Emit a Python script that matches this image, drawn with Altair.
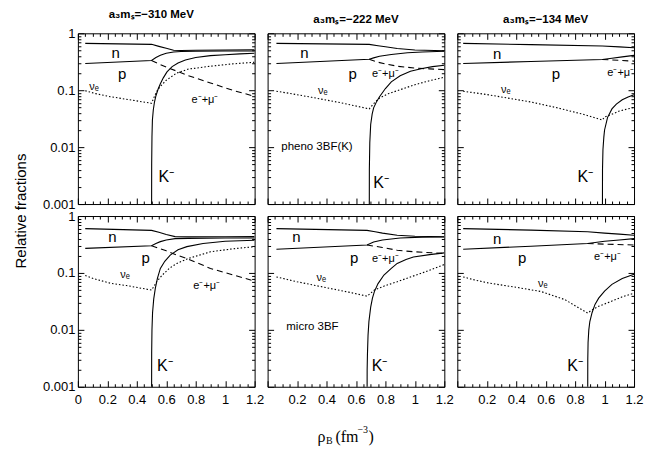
import json
import altair as alt
import pandas as pd

# ---------------- data ----------------
COL_TITLES = ["a₃mₛ=−310 MeV", "a₃mₛ=−222 MeV", "a₃mₛ=−134 MeV"]
MODEL_TEXT = {2: "pheno 3BF(K)", 5: "micro 3BF"}
MODEL_POS = {2: (0.093, 0.0102), 5: (0.127, 0.011)}

X_MAJOR = [0, 0.2, 0.4, 0.6, 0.8, 1.0, 1.2]
X_MINOR = [0.05, 0.1, 0.15, 0.25, 0.3, 0.35, 0.45, 0.5, 0.55, 0.65, 0.7, 0.75,
           0.85, 0.9, 0.95, 1.05, 1.1, 1.15]
Y_MAJOR = [0.001, 0.01, 0.1, 1]
Y_MINOR = [0.002, 0.003, 0.004, 0.005, 0.006, 0.007, 0.008, 0.009,
           0.02, 0.03, 0.04, 0.05, 0.06, 0.07, 0.08, 0.09,
           0.2, 0.3, 0.4, 0.5, 0.6, 0.7, 0.8, 0.9]

# panel 1: pheno, -310 MeV
P1_N = [(0.05, 0.665), (0.5, 0.64), (0.55, 0.59), (0.6, 0.545), (0.65, 0.505), (0.7, 0.50), (0.8, 0.505), (1.0, 0.51), (1.2, 0.515)]
P1_P = [(0.05, 0.295), (0.5, 0.333), (0.53, 0.375), (0.56, 0.41), (0.6, 0.445), (0.65, 0.47), (0.7, 0.48), (0.8, 0.485), (1.0, 0.488), (1.2, 0.49)]
P1_E = [(0.5, 0.333), (0.55, 0.29), (0.6, 0.255), (0.672, 0.216), (0.75, 0.18), (0.9, 0.134), (1.05, 0.1), (1.2, 0.078)]
P1_NU = [(0.05, 0.098), (0.12, 0.087), (0.22, 0.077), (0.35, 0.068), (0.5, 0.059), (0.52, 0.078), (0.54, 0.1), (0.56, 0.117), (0.6, 0.15), (0.67, 0.20), (0.75, 0.235), (0.9, 0.264), (1.05, 0.29), (1.2, 0.31)]
P1_K = [(0.5, 1e-4), (0.501, 0.005), (0.503, 0.015), (0.506, 0.03), (0.512, 0.045), (0.52, 0.062), (0.53, 0.08), (0.545, 0.105), (0.56, 0.13), (0.58, 0.165), (0.605, 0.21), (0.64, 0.26), (0.68, 0.30), (0.73, 0.34), (0.8, 0.375), (0.9, 0.405), (1.0, 0.42), (1.1, 0.435), (1.2, 0.445)]

# panel 2: pheno, -222 MeV
P2_N = [(0.06, 0.665), (0.69, 0.64), (0.75, 0.605), (0.8, 0.58), (0.88, 0.54), (1.0, 0.51), (1.2, 0.495)]
P2_P = [(0.06, 0.295), (0.69, 0.35), (0.72, 0.37), (0.76, 0.395), (0.84, 0.425), (0.95, 0.455), (1.05, 0.47), (1.2, 0.485)]
P2_E = [(0.69, 0.35), (0.75, 0.31), (0.8, 0.29), (0.88, 0.264), (1.0, 0.245), (1.1, 0.237), (1.2, 0.23)]
P2_NU = [(0.06, 0.096), (0.15, 0.088), (0.3, 0.075), (0.5, 0.06), (0.69, 0.047), (0.72, 0.058), (0.76, 0.073), (0.82, 0.087), (0.88, 0.098), (1.0, 0.125), (1.1, 0.147), (1.2, 0.169)]
P2_K = [(0.69, 1e-4), (0.691, 0.004), (0.694, 0.012), (0.7, 0.025), (0.71, 0.038), (0.72, 0.049), (0.74, 0.063), (0.76, 0.077), (0.8, 0.107), (0.84, 0.14), (0.9, 0.18), (0.97, 0.216), (1.05, 0.24), (1.12, 0.26), (1.2, 0.275)]

# panel 3: pheno, -134 MeV
P3_N = [(0.04, 0.665), (0.5, 0.633), (0.985, 0.60), (1.1, 0.578), (1.2, 0.557)]
P3_P = [(0.04, 0.295), (0.5, 0.32), (0.985, 0.347), (1.05, 0.365), (1.12, 0.385), (1.2, 0.41)]
P3_E = [(0.985, 0.347), (1.1, 0.335), (1.2, 0.324)]
P3_NU = [(0.04, 0.096), (0.2, 0.084), (0.34, 0.073), (0.5, 0.062), (0.68, 0.049), (0.85, 0.038), (0.985, 0.030), (1.0, 0.034), (1.04, 0.037), (1.1, 0.043), (1.2, 0.05)]
P3_K = [(0.985, 1e-4), (0.986, 0.004), (0.989, 0.009), (0.995, 0.015), (1.0, 0.02), (1.02, 0.033), (1.05, 0.047), (1.08, 0.057), (1.12, 0.068), (1.16, 0.076), (1.2, 0.083)]

# panel 4: micro, -310 MeV
P4_N = [(0.05, 0.60), (0.5, 0.56), (0.55, 0.52), (0.6, 0.475), (0.66, 0.435), (0.75, 0.43), (1.0, 0.432), (1.2, 0.435)]
P4_P = [(0.05, 0.27), (0.5, 0.30), (0.53, 0.33), (0.56, 0.355), (0.6, 0.38), (0.66, 0.40), (0.75, 0.405), (1.0, 0.41), (1.2, 0.41)]
P4_E = [(0.5, 0.30), (0.55, 0.27), (0.6, 0.245), (0.672, 0.206), (0.75, 0.175), (0.9, 0.12), (1.05, 0.093), (1.2, 0.072)]
P4_NU = [(0.05, 0.09), (0.11, 0.079), (0.22, 0.066), (0.33, 0.06), (0.5, 0.05), (0.52, 0.06), (0.535, 0.07), (0.57, 0.09), (0.62, 0.12), (0.672, 0.147), (0.75, 0.18), (0.9, 0.235), (1.05, 0.265), (1.2, 0.29)]
P4_K = [(0.5, 1e-4), (0.501, 0.004), (0.503, 0.01), (0.507, 0.02), (0.515, 0.035), (0.526, 0.054), (0.54, 0.08), (0.56, 0.12), (0.59, 0.16), (0.627, 0.206), (0.68, 0.255), (0.74, 0.29), (0.85, 0.33), (1.0, 0.36), (1.2, 0.376)]

# panel 5: micro, -222 MeV
P5_N = [(0.06, 0.60), (0.675, 0.56), (0.73, 0.53), (0.78, 0.50), (0.88, 0.46), (1.0, 0.44), (1.2, 0.432)]
P5_P = [(0.06, 0.26), (0.675, 0.31), (0.72, 0.35), (0.78, 0.38), (0.9, 0.41), (1.05, 0.425), (1.2, 0.428)]
P5_E = [(0.675, 0.31), (0.78, 0.28), (0.88, 0.25), (1.0, 0.235), (1.2, 0.22)]
P5_NU = [(0.06, 0.085), (0.2, 0.07), (0.4, 0.055), (0.55, 0.046), (0.675, 0.039), (0.7, 0.044), (0.725, 0.05), (0.8, 0.06), (0.88, 0.07), (0.96, 0.083), (1.04, 0.098), (1.12, 0.117), (1.2, 0.141)]
P5_K = [(0.675, 1e-4), (0.676, 0.002), (0.678, 0.0037), (0.682, 0.008), (0.688, 0.014), (0.7, 0.025), (0.712, 0.036), (0.725, 0.047), (0.75, 0.065), (0.79, 0.092), (0.84, 0.12), (0.88, 0.147), (0.94, 0.172), (0.99, 0.19), (1.1, 0.21), (1.2, 0.225)]

# panel 6: micro, -134 MeV
P6_N = [(0.04, 0.60), (0.5, 0.565), (0.885, 0.53), (1.0, 0.5), (1.1, 0.48), (1.2, 0.46)]
P6_P = [(0.04, 0.26), (0.5, 0.295), (0.885, 0.33), (1.0, 0.36), (1.1, 0.38), (1.2, 0.40)]
P6_E = [(0.885, 0.33), (1.0, 0.32), (1.2, 0.31)]
P6_NU = [(0.04, 0.085), (0.12, 0.075), (0.22, 0.066), (0.4, 0.056), (0.57, 0.047), (0.73, 0.034), (0.885, 0.0197), (0.91, 0.022), (0.96, 0.026), (1.05, 0.032), (1.12, 0.038), (1.2, 0.044)]
P6_K = [(0.885, 1e-4), (0.886, 0.003), (0.888, 0.006), (0.893, 0.01), (0.9, 0.014), (0.915, 0.02), (0.935, 0.028), (0.96, 0.036), (1.0, 0.048), (1.05, 0.063), (1.12, 0.08), (1.2, 0.095)]

# in-panel label anchors, panels 1..6
LBL_N = [(0.256, 0.45), (0.25, 0.45), (0.27, 0.43), (0.234, 0.43), (0.195, 0.43), (0.27, 0.40)]
LBL_P = [(0.30, 0.193), (0.578, 0.19), (0.67, 0.193), (0.46, 0.18), (0.587, 0.18), (0.44, 0.18)]
LBL_NU = [(0.11, 0.112), (0.375, 0.095), (0.33, 0.1), (0.32, 0.092), (0.365, 0.08), (0.58, 0.063)]
LBL_E = [(0.863, 0.068), (0.80, 0.19), (1.11, 0.2), (0.875, 0.058), (0.80, 0.175), (1.02, 0.19)]
LBL_K = [(0.6, 0.003), (0.77, 0.0023), (0.87, 0.003), (0.59, 0.0023), (0.76, 0.0023), (0.80, 0.0023)]

CURVES = {
    1: {"n": P1_N, "p": P1_P, "e": P1_E, "nu": P1_NU, "K": P1_K},
    2: {"n": P2_N, "p": P2_P, "e": P2_E, "nu": P2_NU, "K": P2_K},
    3: {"n": P3_N, "p": P3_P, "e": P3_E, "nu": P3_NU, "K": P3_K},
    4: {"n": P4_N, "p": P4_P, "e": P4_E, "nu": P4_NU, "K": P4_K},
    5: {"n": P5_N, "p": P5_P, "e": P5_E, "nu": P5_NU, "K": P5_K},
    6: {"n": P6_N, "p": P6_P, "e": P6_E, "nu": P6_NU, "K": P6_K},
}

rows = []
for pid, sp in CURVES.items():
    for name, pts in sp.items():
        for i, (x, y) in enumerate(pts):
            rows.append({"panel": pid, "species": name, "i": i, "x": x, "y": y})
curves = pd.DataFrame(rows)

lrows = []
for kind, txt, lst in [("big", "n", LBL_N), ("big", "p", LBL_P), ("small", "νₑ", LBL_NU),
                       ("small", "e⁻+μ⁻", LBL_E), ("kaon", "K⁻", LBL_K)]:
    for pid, (x, y) in enumerate(lst, start=1):
        lrows.append({"panel": pid, "kind": kind, "text": txt, "x": x, "y": y})
for pid, t in MODEL_TEXT.items():
    lrows.append({"panel": pid, "kind": "model", "text": t, "x": MODEL_POS[pid][0], "y": MODEL_POS[pid][1]})
labels = pd.DataFrame(lrows)

# ---------------- styling ----------------
FONT = "Liberation Sans"
W, H = 177, 171
X_TICKS = sorted(X_MAJOR + X_MINOR)
Y_TICKS = sorted(Y_MAJOR + Y_MINOR)
X_TEST = f"indexof({json.dumps(X_MAJOR)}, datum.value) >= 0"
Y_TEST = f"indexof({json.dumps(Y_MAJOR)}, datum.value) >= 0"


def tick_size(test):
    return {"condition": {"test": test, "value": -6}, "value": -3}


def x_axis(orient, show, skip_zero):
    cond = X_TEST + (" && datum.value > 0" if skip_zero else "")
    return alt.Axis(orient=orient, values=X_TICKS, labels=show, grid=False, domain=False,
                    tickSize=tick_size(X_TEST), tickColor="black", tickWidth=1,
                    labelExpr=f"{cond} ? format(datum.value, '~g') : ''",
                    labelFont=FONT, labelFontSize=13, labelColor="black",
                    labelPadding=13, labelFlush=False, labelOverlap=False, title=None)


def y_axis(orient, show):
    return alt.Axis(orient=orient, values=Y_TICKS, labels=show, grid=False, domain=False,
                    tickSize=tick_size(Y_TEST), tickColor="black", tickWidth=1,
                    labelExpr=f"{Y_TEST} ? format(datum.value, '~g') : ''",
                    labelFont=FONT, labelFontSize=13, labelColor="black",
                    labelPadding=9, labelFlush=False, labelOverlap=False, title=None)


XS = alt.Scale(domain=[0, 1.2], nice=False, zero=False)
YS = alt.Scale(type="log", domain=[0.001, 1], nice=False)


def make_panel(pid, col, row):
    cd = curves[curves.panel == pid]
    ld = labels[labels.panel == pid]
    bottom = x_axis("bottom", row == 1, col > 0)
    left = y_axis("left", col == 0)

    def enc(xa=None, ya=None):
        return dict(x=alt.X("x:Q", scale=XS, axis=xa), y=alt.Y("y:Q", scale=YS, axis=ya))

    solid = alt.Chart(cd).transform_filter(
        alt.FieldOneOfPredicate(field="species", oneOf=["n", "p", "K"])
    ).mark_line(clip=True, color="black", strokeWidth=1.1).encode(
        detail="species:N", order="i:Q", **enc(bottom, left))
    dashed = alt.Chart(cd).transform_filter(alt.datum.species == "e").mark_line(
        clip=True, color="black", strokeWidth=1.1, strokeDash=[6, 4]).encode(order="i:Q", **enc())
    dotted = alt.Chart(cd).transform_filter(alt.datum.species == "nu").mark_line(
        clip=True, color="black", strokeWidth=1.1, strokeDash=[1.5, 2]).encode(order="i:Q", **enc())
    frame = alt.Chart(ld).mark_point(opacity=0).encode(
        x=alt.X("x:Q", scale=XS, axis=x_axis("top", False, False)),
        y=alt.Y("y:Q", scale=YS, axis=y_axis("right", False)))

    def txt(kind, size, align="center"):
        return alt.Chart(ld).transform_filter(alt.datum.kind == kind).mark_text(
            font=FONT, fontSize=size, color="black", align=align, baseline="middle"
        ).encode(text="text:N", **enc())

    layers = [solid, dashed, dotted, frame, txt("big", 15), txt("small", 11),
              txt("kaon", 16), txt("model", 11.5, "left")]

    if pid == 4:
        layers.append(alt.Chart(alt.Data(values=[{}])).mark_text(
            font=FONT, fontSize=15, angle=270, align="center", baseline="middle", color="black"
        ).encode(text=alt.value("Relative fractions"), x=alt.value(-57), y=alt.value(-5)))
    if pid == 5:
        serif = "Liberation Serif"
        pieces = [("ρ", 50, 221, 16), ("B", 58.5, 225, 10), ("(fm", 68, 221, 16),
                  ("−3", 90, 214, 10), (")", 101, 221, 16)]
        for t, px, py, fs in pieces:
            layers.append(alt.Chart(alt.Data(values=[{}])).mark_text(
                font=serif, fontSize=fs, align="left", baseline="middle", color="black"
            ).encode(text=alt.value(t), x=alt.value(px), y=alt.value(py)))

    props = dict(width=W, height=H)
    if row == 0:
        props["title"] = alt.TitleParams(COL_TITLES[col], font=FONT, fontSize=11.5,
                                         fontWeight="bold", color="black", offset=7,
                                         dx=-15 if col == 0 else 0)
    return alt.layer(*layers).resolve_axis(x="independent", y="independent").properties(**props)


panels = [make_panel(r * 3 + c + 1, c, r) for r in range(2) for c in range(3)]
chart = alt.concat(*panels, columns=3, spacing={"row": 12, "column": 13}, bounds="flush").configure_view(
    stroke="black", strokeWidth=1
).properties(padding={"left": 5, "top": 0, "right": 5, "bottom": 5}, background="white")

chart.save("out.html", embed_options={"renderer": "svg", "actions": False})
